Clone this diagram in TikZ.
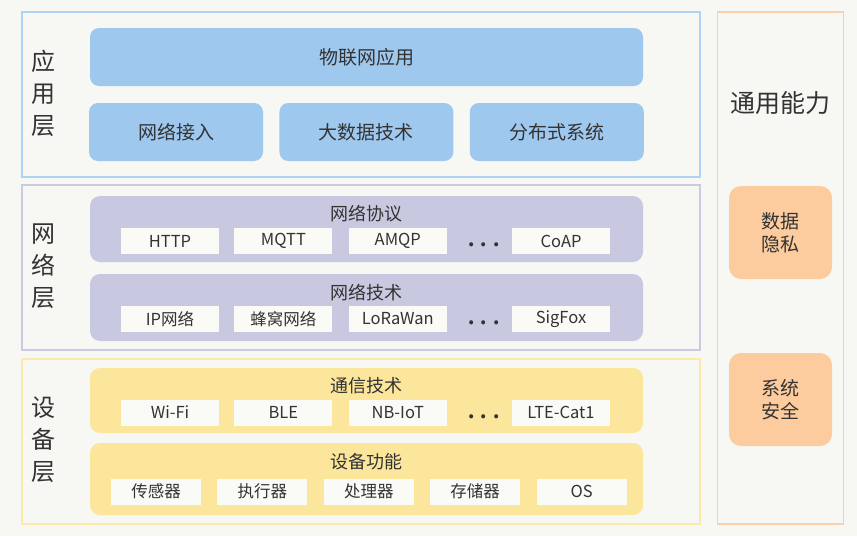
\documentclass[tikz,border=0pt]{standalone}
\usepackage{fontspec}
\setmainfont{Noto Sans CJK SC}
\usepackage{xcolor}
\usepackage{tikz}
\usetikzlibrary{positioning}

\definecolor{bgcol}{HTML}{F7F8F3}
\definecolor{appline}{HTML}{AFD3F5}
\definecolor{appfill}{HTML}{9FC8EE}
\definecolor{netline}{HTML}{CACAE2}
\definecolor{netfill}{HTML}{C8C9E0}
\definecolor{devline}{HTML}{FCEAA8}
\definecolor{devfill}{HTML}{FBE69B}
\definecolor{capline}{HTML}{FBCFA8}
\definecolor{capfill}{HTML}{FCCB9E}
\definecolor{itemfill}{HTML}{FAFAF6}
\definecolor{textcol}{HTML}{333333}

\begin{document}
\begin{tikzpicture}[
    x=1pt, y=-1pt, text=textcol,
    frame/.style={rectangle, line width=1.6pt, inner sep=0pt},
    appbox/.style={rectangle, fill=appfill, rounded corners=9pt, minimum width=174pt, minimum height=58pt, inner sep=0pt, font=\fontsize{19}{19}\selectfont},
    band/.style={rectangle, rounded corners=10pt, minimum width=553pt, inner sep=0pt},
    bandtitle/.style={inner sep=0pt, font=\fontsize{18}{18}\selectfont},
    item/.style={rectangle, fill=itemfill, minimum width=98pt, minimum height=26pt, inner sep=0pt, font=\fontsize{16.5}{16.5}\selectfont},
    ellip/.style={inner sep=0pt, font=\fontsize{30}{30}\selectfont},
    layer/.style={align=center, inner sep=0pt, font=\fontsize{24}{32}\selectfont},
    capbox/.style={rectangle, fill=capfill, rounded corners=12pt, minimum width=103pt, minimum height=93pt, align=center, font=\fontsize{19}{23}\selectfont}
]
    \fill [bgcol] (0,0) rectangle (857,536);

    % frames
    \node [frame, draw=appline, minimum width=678pt, minimum height=165pt] (appframe) at (361,94.5) {};
    \node [frame, draw=netline, minimum width=678pt, minimum height=165pt] (netframe) at (361,267.5) {};
    \node [frame, draw=devline, minimum width=678pt, minimum height=165pt] (devframe) at (361,441.5) {};
    \node [frame, draw=capline, minimum width=126pt, minimum height=512pt] (capframe) at (780.5,268) {};

    \node [layer] (applabel) at (43,93) {应\\用\\层};
    \node [layer] (netlabel) at (43,266) {网\\络\\层};
    \node [layer] (devlabel) at (43,440) {设\\备\\层};

    % application layer
    \node [appbox, minimum width=553pt] (iotapp) at (366.5,57) {物联网应用};
    \node [appbox] (access) at (176,132) {网络接入};
    \node [appbox, right=16pt of access] (bigdata) {大数据技术};
    \node [appbox, right=16pt of bigdata] (distsys) {分布式系统};

    % network layer
    \node [band, fill=netfill, minimum height=66pt] (proto) at (366.5,229) {};
    \node [bandtitle] (prototitle) at (366.5,214) {网络协议};
    \node [item] (http) at (170,241) {HTTP};
    \node [item, right=15pt of http] (mqtt) {MQTT};
    \node [item, right=16pt of mqtt] (amqp) {AMQP};
    \node [item] (coap) at (561,241) {CoAP};
    \node [ellip] (pdots) at (484,245) {.\hspace{4pt}.\hspace{4pt}.};

    \node [band, fill=netfill, minimum height=67pt] (nettech) at (366.5,307.5) {};
    \node [bandtitle] (nettitle) at (366.5,293) {网络技术};
    \node [item] (ipnet) at (170,319) {IP网络};
    \node [item, right=15pt of ipnet] (cell) {蜂窝网络};
    \node [item, right=16pt of cell] (lora) {LoRaWan};
    \node [item] (sigfox) at (561,319) {SigFox};
    \node [ellip] (ndots) at (484,323) {.\hspace{4pt}.\hspace{4pt}.};

    % device layer
    \node [band, fill=devfill, minimum height=65pt] (comm) at (366.5,400.5) {};
    \node [bandtitle] (commtitle) at (366.5,386) {通信技术};
    \node [item] (wifi) at (170,412.5) {Wi-Fi};
    \node [item, right=15pt of wifi] (ble) {BLE};
    \node [item, right=16pt of ble] (nbiot) {NB-IoT};
    \node [item] (ltecat) at (561,412.5) {LTE-Cat1};
    \node [ellip] (cdots) at (484,416.5) {.\hspace{4pt}.\hspace{4pt}.};

    \node [band, fill=devfill, minimum height=72pt] (devfunc) at (366.5,479) {};
    \node [bandtitle] (functitle) at (366.5,462) {设备功能};
    \node [item, minimum width=90pt] (sensor) at (156,491.5) {传感器};
    \node [item, minimum width=90pt, right=16pt of sensor] (actuator) {执行器};
    \node [item, minimum width=90pt, right=16pt of actuator] (cpu) {处理器};
    \node [item, minimum width=90pt, right=16pt of cpu] (storage) {存储器};
    \node [item, minimum width=90pt, right=16pt of storage] (os) {OS};

    % common capabilities
    \node [inner sep=0pt, font=\fontsize{25}{25}\selectfont] (captitle) at (780.5,103) {通用能力};
    \node [capbox] (privacy) at (780.5,232.5) {数据\\隐私};
    \node [capbox] (security) at (780.5,399.5) {系统\\安全};
\end{tikzpicture}
\end{document}
